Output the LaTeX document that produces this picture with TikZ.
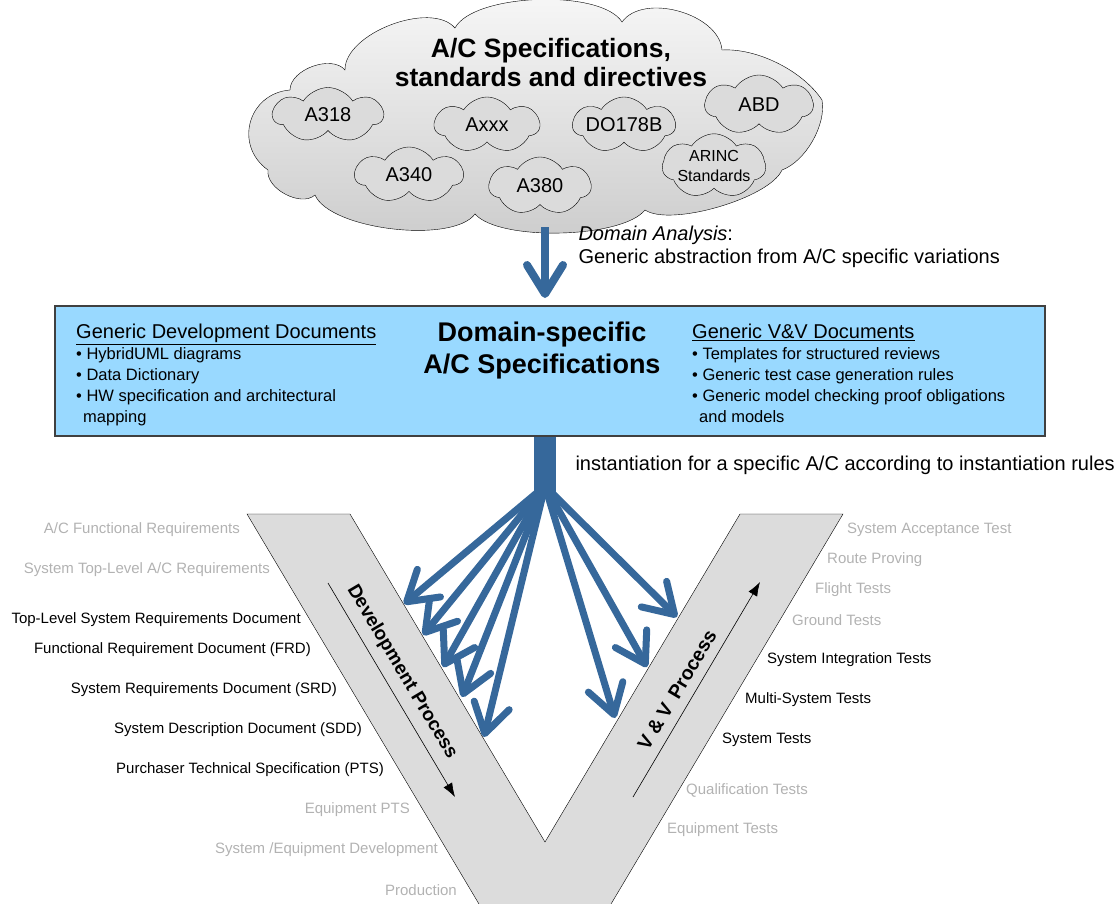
\documentclass[tikz,border=0pt]{standalone}
\usepackage{fontspec}
\setmainfont{Liberation Sans}
\usetikzlibrary{shapes.symbols, arrows.meta, positioning}
\definecolor{vblue}{RGB}{54,104,155}
\definecolor{boxblue}{RGB}{153,217,255}
\definecolor{vgray}{RGB}{220,220,220}
\definecolor{fadedgray}{RGB}{178,178,178}
\tikzset{
    diagram/.style={x=1pt, y=-1pt, font=\fontsize{15}{17}\selectfont},
    puff/.style={cloud, cloud puffs=7, cloud puff arc=115, cloud ignores aspect,
        draw, thin, fill=gray!28, inner sep=0pt, font=\fontsize{20}{22}\selectfont},
    fan arrow/.style={vblue, line width=7pt,
        -{Straight Barb[length=29pt, width=36pt, round]}},
    process arrow/.style={semithick, -{Latex[length=14pt, width=10pt]}},
    doc label/.style={anchor=east, inner sep=0pt},
    test label/.style={anchor=west, inner sep=0pt},
    faded/.style={text=fadedgray},
}

\begin{document}
\begin{tikzpicture}[diagram]
    \useasboundingbox (0,0) rectangle (1119,903);

    % standards cloud
    \draw[thin, top color=gray!6, bottom color=gray!40]
        (268,170) to[bend left=70, looseness=1.3] (290,90)
        to[bend left=70, looseness=0.9] (345,70)
        to[bend left=70, looseness=0.8] (455,28)
        to[bend left=60, looseness=0.6] (622,22)
        to[bend left=70, looseness=0.9] (722,50)
        to[bend left=30, looseness=0.8] (822,100)
        to[bend left=40, looseness=0.8] (782,170)
        to[bend left=50, looseness=0.55] (645,210)
        to[bend left=50, looseness=0.55] (475,214)
        to[bend left=60, looseness=0.6] (315,195)
        to[bend left=70, looseness=0.9] (268,170) -- cycle;
    \node[align=center, font=\bfseries\fontsize{26.5}{29}\selectfont]
        (cloudtitle) at (551,63) {A/C Specifications,\\standards and directives};
    \node[puff, minimum width=110pt, minimum height=55pt] (a318) at (328,115) {A318};
    \node[puff, minimum width=105pt, minimum height=56pt] (axxx) at (487,125) {Axxx};
    \node[puff, minimum width=98pt, minimum height=56pt] (do178b) at (624,125) {DO178B};
    \node[puff, minimum width=108pt, minimum height=60pt] (abd) at (759,105) {ABD};
    \node[puff, minimum width=98pt, minimum height=58pt, align=center,
        font=\fontsize{16}{20}\selectfont] (arinc) at (714,166) {ARINC\\Standards};
    \node[puff, minimum width=108pt, minimum height=56pt] (a340) at (409,175) {A340};
    \node[puff, minimum width=102pt, minimum height=58pt] (a380) at (540,186) {A380};

    % domain analysis
    \coordinate (dtail) at (545,227);
    \coordinate (dtip) at (545,298);
    \draw[fan arrow, line width=8pt] (dtail) -- (dtip);
    \node[anchor=west, align=left, font=\fontsize{20}{23}\selectfont]
        (analysis) at (575,247) {\textit{Domain Analysis}:\\
        Generic abstraction from A/C specific variations};

    % domain-specific specifications
    \node[draw=black!75, line width=1.2pt, fill=boxblue, minimum width=990pt,
        minimum height=130pt] (spec) at (550,371) {};
    \node[font=\bfseries\fontsize{27}{32}\selectfont, align=center]
        (spectitle) at (542,351) {Domain-specific\\A/C Specifications};
    \node[anchor=north west, align=left, inner sep=0pt,
        font=\fontsize{16.5}{21}\selectfont] (devdocs) at (76,324)
        {{\fontsize{20}{21}\selectfont\underline{Generic Development Documents}}\\
        • HybridUML diagrams\\
        • Data Dictionary\\
        • HW specification and architectural\\
        \hspace*{7pt}mapping};
    \node[anchor=north west, align=left, inner sep=0pt,
        font=\fontsize{16.5}{21}\selectfont] (vvdocs) at (692,324)
        {{\fontsize{20}{21}\selectfont\underline{Generic V\&V Documents}}\\
        • Templates for structured reviews\\
        • Generic test case generation rules\\
        • Generic model checking proof obligations\\
        \hspace*{7pt}and models};

    % instantiation
    \coordinate (fan) at (545,486);
    \coordinate (stemend) at (545,492);
    \draw[vblue, line width=22pt] (spec.south -| fan) -- (stemend);
    \node[anchor=west, font=\fontsize{20}{22}\selectfont] (inst) at (572,465)
        {instantiation for a specific A/C according to instantiation rules};

    % the V
    \begin{scope}
        \clip (0,0) rectangle (1119,903);
        \draw[thin, fill=vgray] (247,514) -- (350,514) -- (545,842) -- (740,514)
            -- (843,514) -- (545,1015) -- cycle;
    \end{scope}

    \coordinate (devtop) at (328,583);
    \coordinate (devend) at (455,797);
    \draw[process arrow] (devtop) -- (devend);
    \node[rotate=-59.3, font=\bfseries\fontsize{19}{21}\selectfont]
        (devlabel) at (402,672) {Development Process};
    \coordinate (vvstart) at (633,797);
    \coordinate (vvend) at (760,582);
    \draw[process arrow] (vvstart) -- (vvend);
    \node[rotate=59.3, font=\bfseries\fontsize{19.5}{21}\selectfont]
        (vvlabel) at (677,690) {V \& V\, Process};

    % instantiation targets
    \coordinate (t1) at (404,604);
    \coordinate (t2) at (423,635);
    \coordinate (t3) at (443,667);
    \coordinate (t4) at (462,697);
    \coordinate (t5) at (484,737);
    \coordinate (t6) at (615,718);
    \coordinate (t7) at (647,667);
    \coordinate (t8) at (677,617);
    \foreach \t in {t1,t2,t3,t4,t5,t6,t7,t8}
        \draw[fan arrow] (fan) -- (\t);

    % development documents
    \node[doc label, faded] (acfr) at (240,530) {A/C Functional Requirements};
    \node[doc label, faded] (sysacr) at (270,570) {System Top-Level A/C Requirements};
    \node[doc label] (tlsrd) at (301,620) {Top-Level System Requirements Document};
    \node[doc label] (frd) at (311,650) {Functional Requirement Document (FRD)};
    \node[doc label] (srd) at (337,690) {System Requirements Document (SRD)};
    \node[doc label] (sdd) at (362,730) {System Description Document (SDD)};
    \node[doc label] (pts) at (384,770) {Purchaser Technical Specification (PTS)};
    \node[doc label, faded] (eqpts) at (410,810) {Equipment PTS};
    \node[doc label, faded] (eqdev) at (438,850) {System /Equipment Development};
    \node[doc label, faded] (prod) at (457,890) {Production};

    % tests
    \node[test label, faded] (sat) at (847,530) {System Acceptance Test};
    \node[test label, faded] (route) at (827,560) {Route Proving};
    \node[test label, faded] (flight) at (815,590) {Flight Tests};
    \node[test label, faded] (ground) at (792,620) {Ground Tests};
    \node[test label] (sit) at (767,660) {System Integration Tests};
    \node[test label] (mst) at (745,700) {Multi-System Tests};
    \node[test label] (st) at (722,740) {System Tests};
    \node[test label, faded] (qual) at (686,790) {Qualification Tests};
    \node[test label, faded] (eqt) at (667,830) {Equipment Tests};
\end{tikzpicture}
\end{document}
